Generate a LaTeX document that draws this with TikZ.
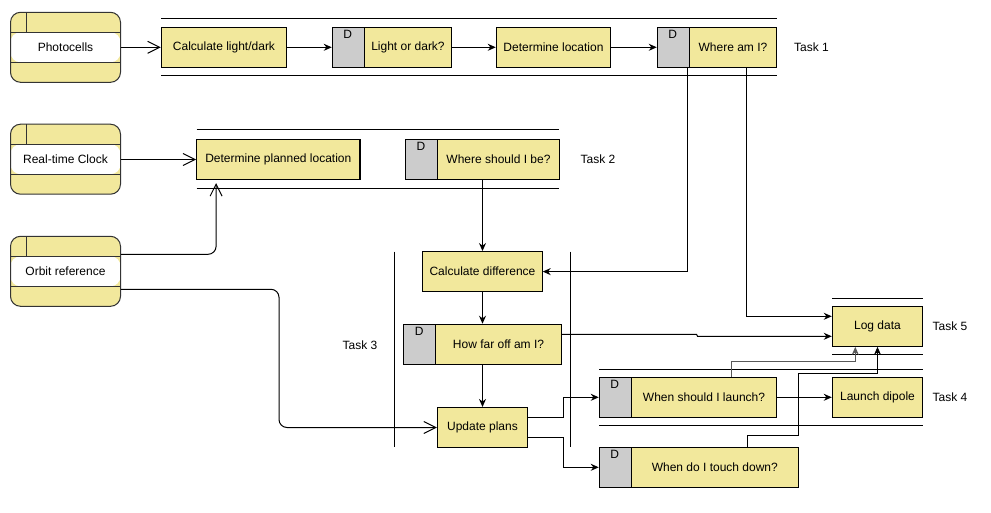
\documentclass[tikz,border=0pt]{standalone}
\usepackage{fontspec}
\setmainfont{Liberation Sans}
\usetikzlibrary{arrows.meta,calc}
\definecolor{boxy}{RGB}{242,232,156}
\definecolor{dgray}{RGB}{204,204,204}
\begin{document}
\begin{tikzpicture}[x=1pt,y=-1pt,
  every node/.style={font=\fontsize{12}{14}\selectfont},
  proc/.style={draw, fill=boxy, line width=1.1pt, minimum height=40pt, inner sep=0pt},
  dproc/.style={proc, path picture={
     \fill[dgray] (path picture bounding box.south west) rectangle ([xshift=32pt]path picture bounding box.north west);
     \draw[line width=1.1pt] ([xshift=32pt]path picture bounding box.south west) -- ([xshift=32pt]path picture bounding box.north west);}},
  store/.style={draw=black!80, fill=boxy, rounded corners=10pt, line width=1pt, minimum width=110pt, minimum height=70pt, inner sep=0pt,
     path picture={
     \fill[white] ([yshift=15pt]path picture bounding box.west) rectangle ([yshift=-15pt]path picture bounding box.east);
     \draw[line width=1pt] ([yshift=15pt]path picture bounding box.west) -- ([yshift=15pt]path picture bounding box.east);
     \draw[line width=1pt] ([yshift=-15pt]path picture bounding box.west) -- ([yshift=-15pt]path picture bounding box.east);
     \draw[line width=1pt] ([xshift=16pt]path picture bounding box.north west) -- ([xshift=16pt,yshift=-20pt]path picture bounding box.north west);}},
  dlet/.style={inner sep=0pt},
  txt/.style={inner sep=0pt},
  lane/.style={line width=1pt},
  arr/.style={line width=1pt, -{Stealth[length=8pt,width=7pt]}},
  oarr/.style={line width=1pt, -{Straight Barb[length=12pt,width=12pt]}},
]
\useasboundingbox (0,0) rectangle (991,513);

% stores
\node[store] (photo) at (65.5,47.3) {Photocells};
\node[store] (clock) at (65.5,159.2) {Real-time Clock};
\node[store] (orbit) at (65.5,271.3) {Orbit reference};

% lanes
\draw[lane] (161.3,18.3) -- (776.7,18.3);
\draw[lane] (161.3,76) -- (776.7,76);
\draw[lane] (196.7,129.5) -- (559,129.5);
\draw[lane] (196.7,188.5) -- (559,188.5);
\draw[lane] (394.3,251.7) -- (394.3,446.7);
\draw[lane] (570.3,251.7) -- (570.3,446.7);
\draw[lane] (832.3,298.3) -- (922.7,298.3);
\draw[lane] (832.3,354.3) -- (922.7,354.3);
\draw[lane] (599.3,369.3) -- (922.7,369.3);
\draw[lane] (599.3,425.3) -- (922.7,425.3);

% Task 1
\node[proc, minimum width=125.4pt] (calc) at (224,47.3) {Calculate light/dark};
\node[dproc, minimum width=119.4pt] (light) at (392,47.3) {};
\node[dlet] (lightD) at ([xshift=16pt,yshift=-7.5pt]light.north west) {D};
\node[txt] (lightT) at ($(light.center)+(16,0)$) {Light or dark?};
\node[proc, minimum width=114.4pt] (detloc) at (553.5,47.3) {Determine location};
\node[dproc, minimum width=119.4pt] (where) at (717,47.3) {};
\node[dlet] (whereD) at ([xshift=16pt,yshift=-7.5pt]where.north west) {D};
\node[txt] (whereT) at ($(where.center)+(16,0)$) {Where am I?};
\node[txt] (t1) at (811.5,47.3) {Task 1};

% Task 2
\node[proc, minimum width=163.3pt] (detplan) at (278.3,159.5) {Determine planned location};
\node[dproc, minimum width=154pt] (should) at (482.5,159.5) {};
\node[dlet] (shouldD) at ([xshift=16pt,yshift=-7.5pt]should.north west) {D};
\node[txt] (shouldT) at ($(should.center)+(16,0)$) {Where should I be?};
\node[txt] (t2) at (598,159.5) {Task 2};

% Task 3
\node[proc, minimum width=119.3pt] (cdiff) at (482.5,271.6) {Calculate difference};
\node[dproc, minimum width=157.3pt] (howfar) at (482.5,344.3) {};
\node[dlet] (howfarD) at ([xshift=16pt,yshift=-7.5pt]howfar.north west) {D};
\node[txt] (howfarT) at ($(howfar.center)+(16,0)$) {How far off am I?};
\node[proc, minimum width=90pt] (update) at (482.5,427.5) {Update plans};
\node[txt] (t3) at (360,345) {Task 3};

% Task 5
\node[proc, minimum width=90.4pt] (log) at (877.5,326.3) {Log data};
\node[txt] (t5) at (950,326.3) {Task 5};

% Task 4
\node[dproc, minimum width=177.4pt] (launchq) at (688,397.3) {};
\node[dlet] (launchqD) at ([xshift=16pt,yshift=-7.5pt]launchq.north west) {D};
\node[txt] (launchqT) at ($(launchq.center)+(16,0)$) {When should I launch?};
\node[proc, minimum width=90.4pt] (dipole) at (877.5,397.3) {Launch dipole};
\node[txt] (t4) at (950,397.3) {Task 4};

\node[dproc, minimum width=199pt] (touch) at (698.8,467.3) {};
\node[dlet] (touchD) at ([xshift=16pt,yshift=-7.5pt]touch.north west) {D};
\node[txt] (touchT) at ($(touch.center)+(16,0)$) {When do I touch down?};

% connectors
\draw[oarr] (photo.east) -- (calc.west);
\draw[arr] (calc.east) -- (light.west);
\draw[arr] (light.east) -- (detloc.west);
\draw[arr] (detloc.east) -- (where.west);

\draw[oarr] (clock.east |- detplan.west) -- (detplan.west);
\draw[oarr, rounded corners=8pt] ([yshift=17pt]orbit.east) -| ([xshift=20pt,yshift=-3pt]detplan.south west);
\coordinate (ob) at (279,350);
\draw[oarr, rounded corners=8pt] ([yshift=-18pt]orbit.east) -| (ob) |- (update.west);

\draw[arr] (should.south) -- (cdiff.north);
\draw[arr] (cdiff.south) -- (howfar.north);
\draw[arr] (howfar.south) -- (update.north);

\draw[arr] ([xshift=30.5pt]where.south west) |- (cdiff.east);
\draw[arr] ([xshift=89.5pt]where.south west) |- ([yshift=10pt]log.west);

\coordinate (hj1) at (696.5,334.3);
\coordinate (hj2) at (697.5,336.3);
\draw[arr] ([yshift=10pt]howfar.east) -- (hj1) -- (hj2) -- ([yshift=-10pt]log.west);

\draw[arr] ([yshift=10pt]update.east) -| ($(update.east)!.5!(launchq.west)$) |- (launchq.west);
\draw[arr] ([yshift=-10pt]update.east) -| ($(update.east)!.5!(touch.west)$) |- (touch.west);

\draw[arr] (launchq.east) -- (dipole.west);

\coordinate (l1) at (855.3,361.7);
\draw[arr, draw=black!65] ([xshift=133pt]launchq.north west) |- (l1) -- ([xshift=-22.2pt]log.south);

\coordinate (tt1) at (798.3,435.7);
\coordinate (tt2) at (798.3,373.7);
\draw[arr] ([xshift=149pt]touch.north west) |- (tt1) -- (tt2) -| (log.south);

\end{tikzpicture}
\end{document}
